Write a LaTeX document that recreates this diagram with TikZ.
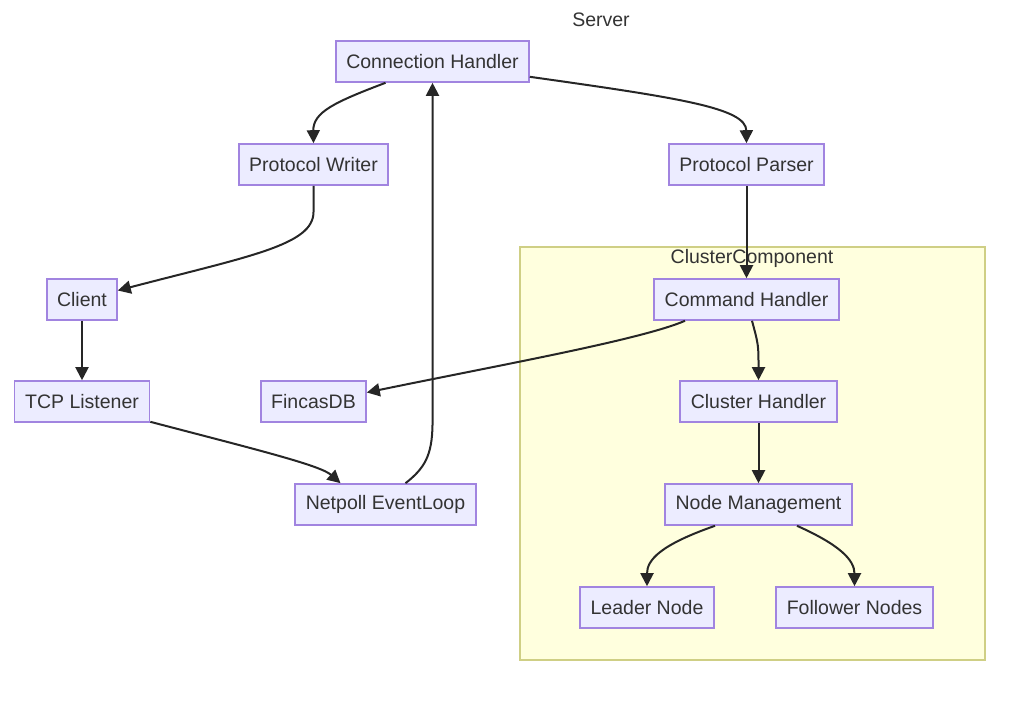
\documentclass[tikz,border=0pt]{standalone}
\usepackage{fontspec}
\setmainfont{Liberation Sans}
\usetikzlibrary{arrows.meta,calc}
\definecolor{nodefill}{HTML}{ECECFF}
\definecolor{nodedraw}{HTML}{A184E0}
\definecolor{clusterfill}{HTML}{FFFFDE}
\definecolor{clusterdraw}{HTML}{CFCF85}
\definecolor{txt}{HTML}{333333}
\begin{document}
\begin{tikzpicture}[x=1pt,y=-1pt,
  box/.style={draw=nodedraw,fill=nodefill,line width=1.6pt,minimum height=41pt,inner sep=0pt,text=txt,font=\fontsize{19.5}{22}\selectfont},
  edge/.style={draw=black!85,line width=2pt,-{Triangle[length=13pt,width=13pt]}},
  lbl/.style={text=txt,font=\fontsize{19.5}{22}\selectfont}]
\useasboundingbox (0,0) rectangle (1024,701);
% cluster
\node[draw=clusterdraw,fill=clusterfill,line width=2pt,minimum width=465pt,minimum height=413pt,inner sep=0pt] (cluster) at (752.5,453.5) {};
\node[lbl] (clabel) at (752,258) {ClusterComponent};
\node[lbl] (server) at (601,20) {Server};
% nodes
\node[box,minimum width=193pt] (ch) at (432.5,61.5) {Connection Handler};
\node[box,minimum width=149pt] (pw) at (313.5,164.5) {Protocol Writer};
\node[box,minimum width=155pt] (pp) at (746.5,164.5) {Protocol Parser};
\node[box,minimum width=70pt] (client) at (82,299.5) {Client};
\node[box,minimum width=185pt] (cmd) at (746.5,299.5) {Command Handler};
\node[box,minimum width=135pt] (tcp) at (82,401.5) {TCP Listener};
\node[box,minimum width=105pt] (db) at (313.5,401.5) {FincasDB};
\node[box,minimum width=157pt] (clh) at (758.5,401.5) {Cluster Handler};
\node[box,minimum width=181pt] (np) at (385.5,504.5) {Netpoll EventLoop};
\node[box,minimum width=187pt] (nm) at (758.5,504.5) {Node Management};
\node[box,minimum width=134pt] (leader) at (647,607.5) {Leader Node};
\node[box,minimum width=157pt] (follower) at (854.5,607.5) {Follower Nodes};
% edges
\draw[edge] ($(ch.south)+(-47,0)$) .. controls (335,102) and (313,112) .. (pw.north);
\draw[edge] ($(ch.south east)+(0,-6)$) .. controls (680,98) and (746,108) .. (pp.north);
\draw[edge] (pw.south) -- (313.5,212) .. controls (313.5,245) and (250,256) .. ($(client.east)+(0,-9)$);
\draw[edge] (pp.south) -- (cmd.north);
\draw[edge] (client.south) -- (tcp.north);
\draw[edge] ($(tcp.south east)+(0,-1)$) .. controls (250,448) and (320,465) .. ($(np.north)+(-45,0)$);
\draw[edge] ($(np.north)+(20,0)$) .. controls (425,468) and (432,455) .. (432.5,425) -- (ch.south);
\draw[edge] ($(cmd.south)+(-61.5,0)$) .. controls (640,340) and (500,365) .. ($(db.east)+(0,-9)$);
\draw[edge] ($(cmd.south)+(5.5,0)$) .. controls (758.5,345) .. (clh.north);
\draw[edge] (clh.south) -- (nm.north);
\draw[edge] ($(nm.south)+(-43.5,0)$) .. controls (660,545) and (647,560) .. (leader.north);
\draw[edge] ($(nm.south)+(38.5,0)$) .. controls (840,545) and (854.5,560) .. (follower.north);
\end{tikzpicture}
\end{document}
